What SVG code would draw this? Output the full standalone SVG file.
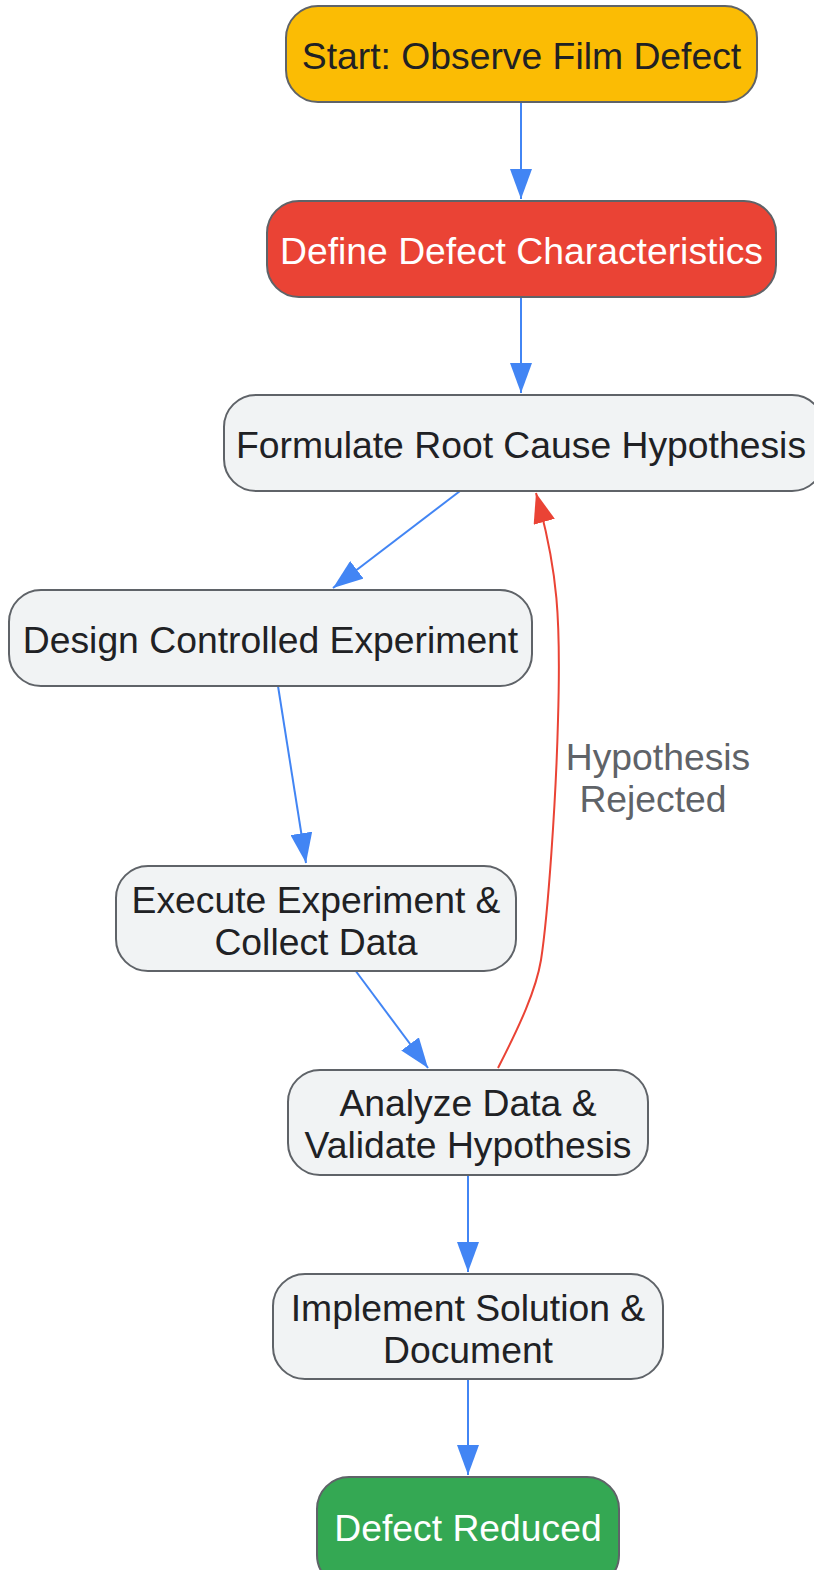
<svg xmlns="http://www.w3.org/2000/svg" width="814" height="1570" viewBox="0 0 814 1570">
<style>
.n{fill:#F1F3F4;stroke:#5F6368;stroke-width:2}
.t{font-family:"Liberation Sans",Arial,sans-serif;font-size:37.3px;fill:#202124;text-anchor:middle}
.w{fill:#FFFFFF}
.e{fill:none;stroke:#4285F4;stroke-width:2}
.r{fill:none;stroke:#EA4335;stroke-width:2}
.l{font-family:"Liberation Sans",Arial,sans-serif;font-size:37.3px;fill:#5F6368;text-anchor:middle}
</style>
<defs>
<marker id="ab" markerWidth="30" markerHeight="22" refX="30" refY="11" orient="auto" markerUnits="userSpaceOnUse"><path d="M0,0 L30,11 L0,22 Z" fill="#4285F4"/></marker>
<marker id="ar" markerWidth="30" markerHeight="22" refX="30" refY="11" orient="auto" markerUnits="userSpaceOnUse"><path d="M0,0 L30,11 L0,22 Z" fill="#EA4335"/></marker>
</defs>
<rect width="814" height="1570" fill="#FFFFFF"/>
<g id="edges">
<path class="e" d="M521,102 L521,199" marker-end="url(#ab)"/>
<path class="e" d="M521,297 L521,393" marker-end="url(#ab)"/>
<path class="e" d="M460,491 L333,588" marker-end="url(#ab)"/>
<path class="e" d="M278,686 L306,863" marker-end="url(#ab)"/>
<path class="e" d="M355,970 L428,1068" marker-end="url(#ab)"/>
<path class="e" d="M468,1175 L468,1272" marker-end="url(#ab)"/>
<path class="e" d="M468,1378 L468,1475" marker-end="url(#ab)"/>
<path class="r" d="M498,1068 C520,1025 536,990 541,960 C548,915 556,800 558,720 C561,620 558,570 536,493" marker-end="url(#ar)"/>
<text class="l" x="658" y="770">Hypothesis</text>
<text class="l" x="653" y="812">Rejected</text>
</g>
<g id="start">
<rect x="286" y="6" width="471" height="96" rx="32" fill="#FBBC04" stroke="#5F6368" stroke-width="2"/>
<text class="t" x="521.5" y="69">Start: Observe Film Defect</text>
</g>
<g id="define">
<rect x="267" y="201" width="509" height="96" rx="32" fill="#EA4335" stroke="#5F6368" stroke-width="2"/>
<text class="t w" x="521.5" y="264">Define Defect Characteristics</text>
</g>
<g id="formulate">
<rect class="n" x="224" y="395" width="600" height="96" rx="32"/>
<text class="t" x="521" y="458">Formulate Root Cause Hypothesis</text>
</g>
<g id="design">
<rect class="n" x="9" y="590" width="523" height="96" rx="32"/>
<text class="t" x="270.5" y="653">Design Controlled Experiment</text>
</g>
<g id="execute">
<rect class="n" x="116" y="866" width="400" height="105" rx="32"/>
<text class="t" x="316" y="913">Execute Experiment &amp;</text>
<text class="t" x="316" y="955">Collect Data</text>
</g>
<g id="analyze">
<rect class="n" x="288" y="1070" width="360" height="105" rx="32"/>
<text class="t" x="468" y="1116">Analyze Data &amp;</text>
<text class="t" x="468" y="1158">Validate Hypothesis</text>
</g>
<g id="implement">
<rect class="n" x="273" y="1274" width="390" height="105" rx="32"/>
<text class="t" x="468" y="1321">Implement Solution &amp;</text>
<text class="t" x="468" y="1363">Document</text>
</g>
<g id="reduced">
<rect x="317" y="1477" width="302" height="110" rx="32" fill="#34A853" stroke="#5F6368" stroke-width="2"/>
<text class="t w" x="468" y="1541">Defect Reduced</text>
</g>
</svg>
